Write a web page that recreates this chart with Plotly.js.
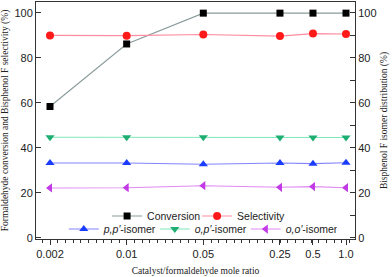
<!DOCTYPE html>
<html>
<head>
<meta charset="utf-8">
<script src="https://cdn.plot.ly/plotly-3.0.1.min.js"></script>
<style>html,body{margin:0;padding:0;background:#fff;}#chart{width:392px;height:277px;}</style>
</head>
<body>
<div id="chart"></div>
<script>
const ratios = [0.002, 0.01, 0.05, 0.25, 0.5, 1.0];
const ratioLabels = ["0.002", "0.01", "0.05", "0.25", "0.5", "1.0"];
const conversion = [58.3, 86.1, 99.8, 99.8, 99.8, 99.8];
const selectivity = [89.9, 89.8, 90.3, 89.6, 90.7, 90.5];
const ppIsomer = [33.2, 33.2, 32.6, 33.2, 32.9, 33.3];
const opIsomer = [44.6, 44.6, 44.6, 44.5, 44.5, 44.5];
const ooIsomer = [22.1, 22.2, 23.1, 22.4, 22.7, 22.2];

const yTicks = [0, 20, 40, 60, 80, 100];

function tr(name, y, lineColor, markerColor, symbol, size, legend, yaxis) {
  return {
    x: ratios, y: y, name: name, type: 'scatter', mode: 'lines+markers',
    line: {color: lineColor, width: 1.1},
    marker: {color: markerColor, symbol: symbol, size: size},
    legend: legend, yaxis: yaxis || 'y'
  };
}

const data = [
  tr('Conversion', conversion, '#8a9b9b', '#000000', 'square', 7, 'legend'),
  tr('Selectivity', selectivity, '#ff8ca0', '#ff1a1a', 'circle', 8, 'legend'),
  tr('<i>p,p′</i>-isomer', ppIsomer, '#8484ff', '#1a3cff', 'triangle-up', 8, 'legend2', 'y2'),
  tr('<i>o,p′</i>-isomer', opIsomer, '#7fe8b8', '#1fae72', 'triangle-down', 8, 'legend2', 'y2'),
  tr('<i>o,o′</i>-isomer', ooIsomer, '#e08af2', '#c23ae6', 'triangle-left', 8, 'legend2', 'y2')
];

const lo = Math.log10(0.002) - 14/109.7;
const hi = 0 + 9/109.7;

const layout = {
  width: 392, height: 277,
  margin: {l: 36, r: 37, t: 2, b: 38},
  paper_bgcolor: '#fff', plot_bgcolor: '#fff',
  font: {family: 'Liberation Sans, Arial, sans-serif', size: 11, color: '#222'},
  showlegend: true,
  xaxis: {
    type: 'log', range: [lo, hi],
    tickmode: 'array', tickvals: ratios, ticktext: ratioLabels,
    ticks: 'outside', ticklen: 5, tickwidth: 1, tickcolor: '#333',
    minor: {dtick: 0.07, tick0: Math.log10(0.002), ticks: 'outside', ticklen: 3, tickcolor: '#333', showgrid: false},
    showline: true, linecolor: '#333', linewidth: 1, mirror: true,
    showgrid: false, zeroline: false,
    tickfont: {size: 11, family: 'Liberation Sans, Arial, sans-serif', color: '#222'},
    title: {text: 'Catalyst/formaldehyde mole ratio', font: {family: 'Liberation Serif, Times New Roman, serif', size: 9.5, color: '#222'}, standoff: 8}
  },
  yaxis: {
    range: [-0.6, 104.75],
    tickmode: 'array', tickvals: yTicks,
    ticks: 'inside', ticklen: 5, tickcolor: '#333',
    showline: true, linecolor: '#333', linewidth: 1,
    showgrid: false, zeroline: false,
    tickfont: {size: 11},
    title: {text: 'Formaldehyde conversion and Bisphenol F selectivity (%)', font: {family: 'Liberation Serif, Times New Roman, serif', size: 9.5, color: '#222'}, standoff: 6}
  },
  yaxis2: {
    overlaying: 'y', side: 'right',
    range: [-0.6, 104.75],
    tickmode: 'array', tickvals: yTicks,
    ticks: 'inside', ticklen: 5, tickcolor: '#333',
    minor: {tickmode: 'array', tickvals: [10, 30, 50, 70, 90], ticks: 'inside', ticklen: 5, tickcolor: '#333'},
    showline: true, linecolor: '#333', linewidth: 1,
    showgrid: false, zeroline: false,
    tickfont: {size: 11},
    title: {text: 'Bisphenol F isomer distribution (%)', font: {family: 'Liberation Serif, Times New Roman, serif', size: 9.5, color: '#222'}, standoff: 4}
  },
  legend: {
    orientation: 'h', x: 0.505, xanchor: 'center', y: 0.097, yanchor: 'middle',
    bgcolor: 'rgba(0,0,0,0)', font: {size: 10.5}, itemwidth: 30, entrywidth: 45
  },
  legend2: {
    orientation: 'h', x: 0.515, xanchor: 'center', y: 0.042, yanchor: 'middle',
    bgcolor: 'rgba(0,0,0,0)', font: {size: 10.5}, itemwidth: 30, entrywidth: 46
  }
};

Plotly.newPlot('chart', data, layout, {displayModeBar: false, staticPlot: true});
</script>
</body>
</html>
